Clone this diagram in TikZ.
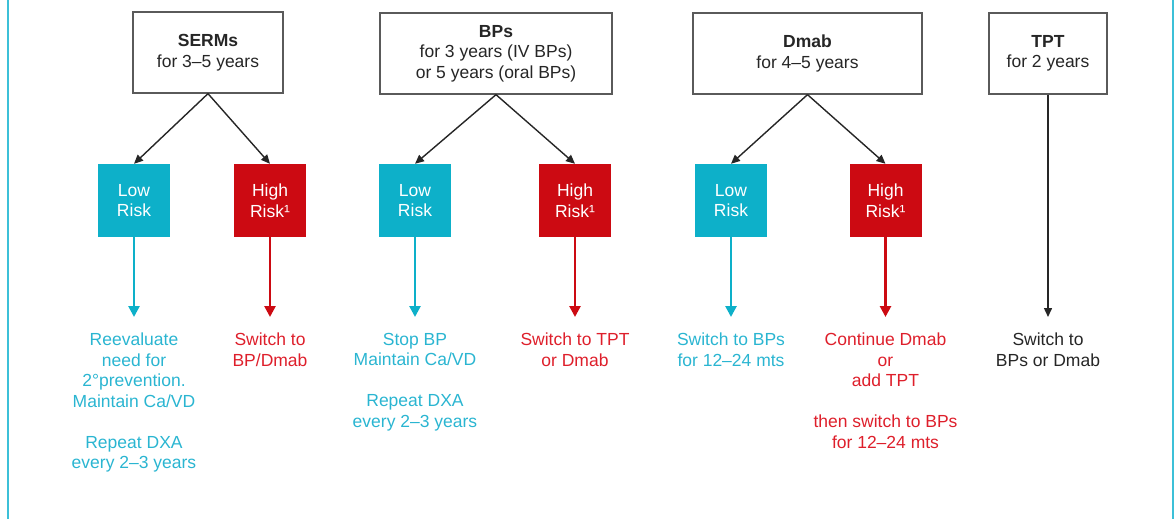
\documentclass[tikz,border=0pt]{standalone}
\usepackage{fontspec}
\setmainfont{Liberation Sans}
\usetikzlibrary{arrows.meta}
\definecolor{riskcyan}{HTML}{0DB0C9}
\definecolor{riskred}{HTML}{CC0A12}
\definecolor{textcyan}{HTML}{2AB5D1}
\definecolor{textred}{HTML}{DE1F2B}
\definecolor{framecyan}{HTML}{3CC0D8}
\definecolor{headgray}{HTML}{5A5A5A}
\tikzset{>={Triangle[width=8pt,length=9pt]}}
\tikzset{
	head/.style={draw=headgray, line width=1.3pt, fill=white, minimum height=81pt, align=center, text=black!85, inner sep=0pt},
	lowrisk/.style={fill=riskcyan, text=white, minimum width=72pt, minimum height=73pt, align=center, inner sep=0pt},
	highrisk/.style={fill=riskred, text=white, minimum width=72pt, minimum height=73pt, align=center, inner sep=0pt},
	lowtext/.style={text=textcyan, align=center, anchor=north, inner sep=0pt},
	hightext/.style={text=textred, align=center, anchor=north, inner sep=0pt},
	plaintext/.style={text=black!85, align=center, anchor=north, inner sep=0pt},
	fork/.style={->, line width=1.4pt, draw=black!85},
	lowline/.style={-{Triangle[width=11pt,length=11pt]}, line width=2.6pt, draw=riskcyan, shorten >=16pt},
	highline/.style={-{Triangle[width=11pt,length=11pt]}, line width=2.6pt, draw=riskred, shorten >=16pt},
	plainline/.style={->, line width=1.5pt, draw=black!85, shorten >=16pt}
}

\begin{document}
\begin{tikzpicture}[x=1pt,y=-1pt,every node/.style={font=\fontsize{17.5}{20.5}\selectfont}]

\useasboundingbox (0,0) rectangle (1176,519);

% frame
\draw[framecyan, line width=1.8pt] (8,0) to (8,519);
\draw[framecyan, line width=1.8pt] (1173,0) to (1173,519);

% SERMs column
\node[head, minimum width=150pt] (serms) at (208,52.5) {\textbf{SERMs}\\for 3–5 years};
\node[lowrisk] (sermsLow) at (134,200.5) {Low\\Risk};
\node[highrisk] (sermsHigh) at (270,200.5) {High\\Risk¹};
\node[lowtext] (sermsLowOut) at (134,333) {Reevaluate\\need for\\2°prevention.\\Maintain Ca/VD\\[20.5pt]Repeat DXA\\every 2–3 years};
\node[hightext] (sermsHighOut) at (270,333) {Switch to\\BP/Dmab};

\draw[fork] (serms.south) to (sermsLow.north);
\draw[fork] (serms.south) to (sermsHigh.north);
\draw[lowline] (sermsLow.south) to (sermsLowOut.north);
\draw[highline] (sermsHigh.south) to (sermsHighOut.north);

% BPs column
\node[head, minimum width=232pt] (bps) at (496,53.5) {\textbf{BPs}\\for 3 years (IV BPs)\\or 5 years (oral BPs)};
\node[lowrisk] (bpsLow) at (415,200.5) {Low\\Risk};
\node[highrisk] (bpsHigh) at (575,200.5) {High\\Risk¹};
\node[lowtext] (bpsLowOut) at (415,333) {Stop BP\\Maintain Ca/VD\\[20.5pt]Repeat DXA\\every 2–3 years};
\node[hightext] (bpsHighOut) at (575,333) {Switch to TPT\\or Dmab};

\draw[fork] (bps.south) to (bpsLow.north);
\draw[fork] (bps.south) to (bpsHigh.north);
\draw[lowline] (bpsLow.south) to (bpsLowOut.north);
\draw[highline] (bpsHigh.south) to (bpsHighOut.north);

% Dmab column
\node[head, minimum width=229pt] (dmab) at (807.5,53.5) {\textbf{Dmab}\\for 4–5 years};
\node[lowrisk] (dmabLow) at (731,200.5) {Low\\Risk};
\node[highrisk] (dmabHigh) at (885.5,200.5) {High\\Risk¹};
\node[lowtext] (dmabLowOut) at (731,333) {Switch to BPs\\for 12–24 mts};
\node[hightext] (dmabHighOut) at (885.5,333) {Continue Dmab\\or\\add TPT\\[20.5pt]then switch to BPs\\for 12–24 mts};

\draw[fork] (dmab.south) to (dmabLow.north);
\draw[fork] (dmab.south) to (dmabHigh.north);
\draw[lowline] (dmabLow.south) to (dmabLowOut.north);
\draw[highline] (dmabHigh.south) to (dmabHighOut.north);

% TPT column
\node[head, minimum width=118pt] (tpt) at (1048,53.5) {\textbf{TPT}\\for 2 years};
\node[plaintext] (tptOut) at (1048,333) {Switch to\\BPs or Dmab};

\draw[plainline] (tpt.south) to (tptOut.north);

\end{tikzpicture}
\end{document}
